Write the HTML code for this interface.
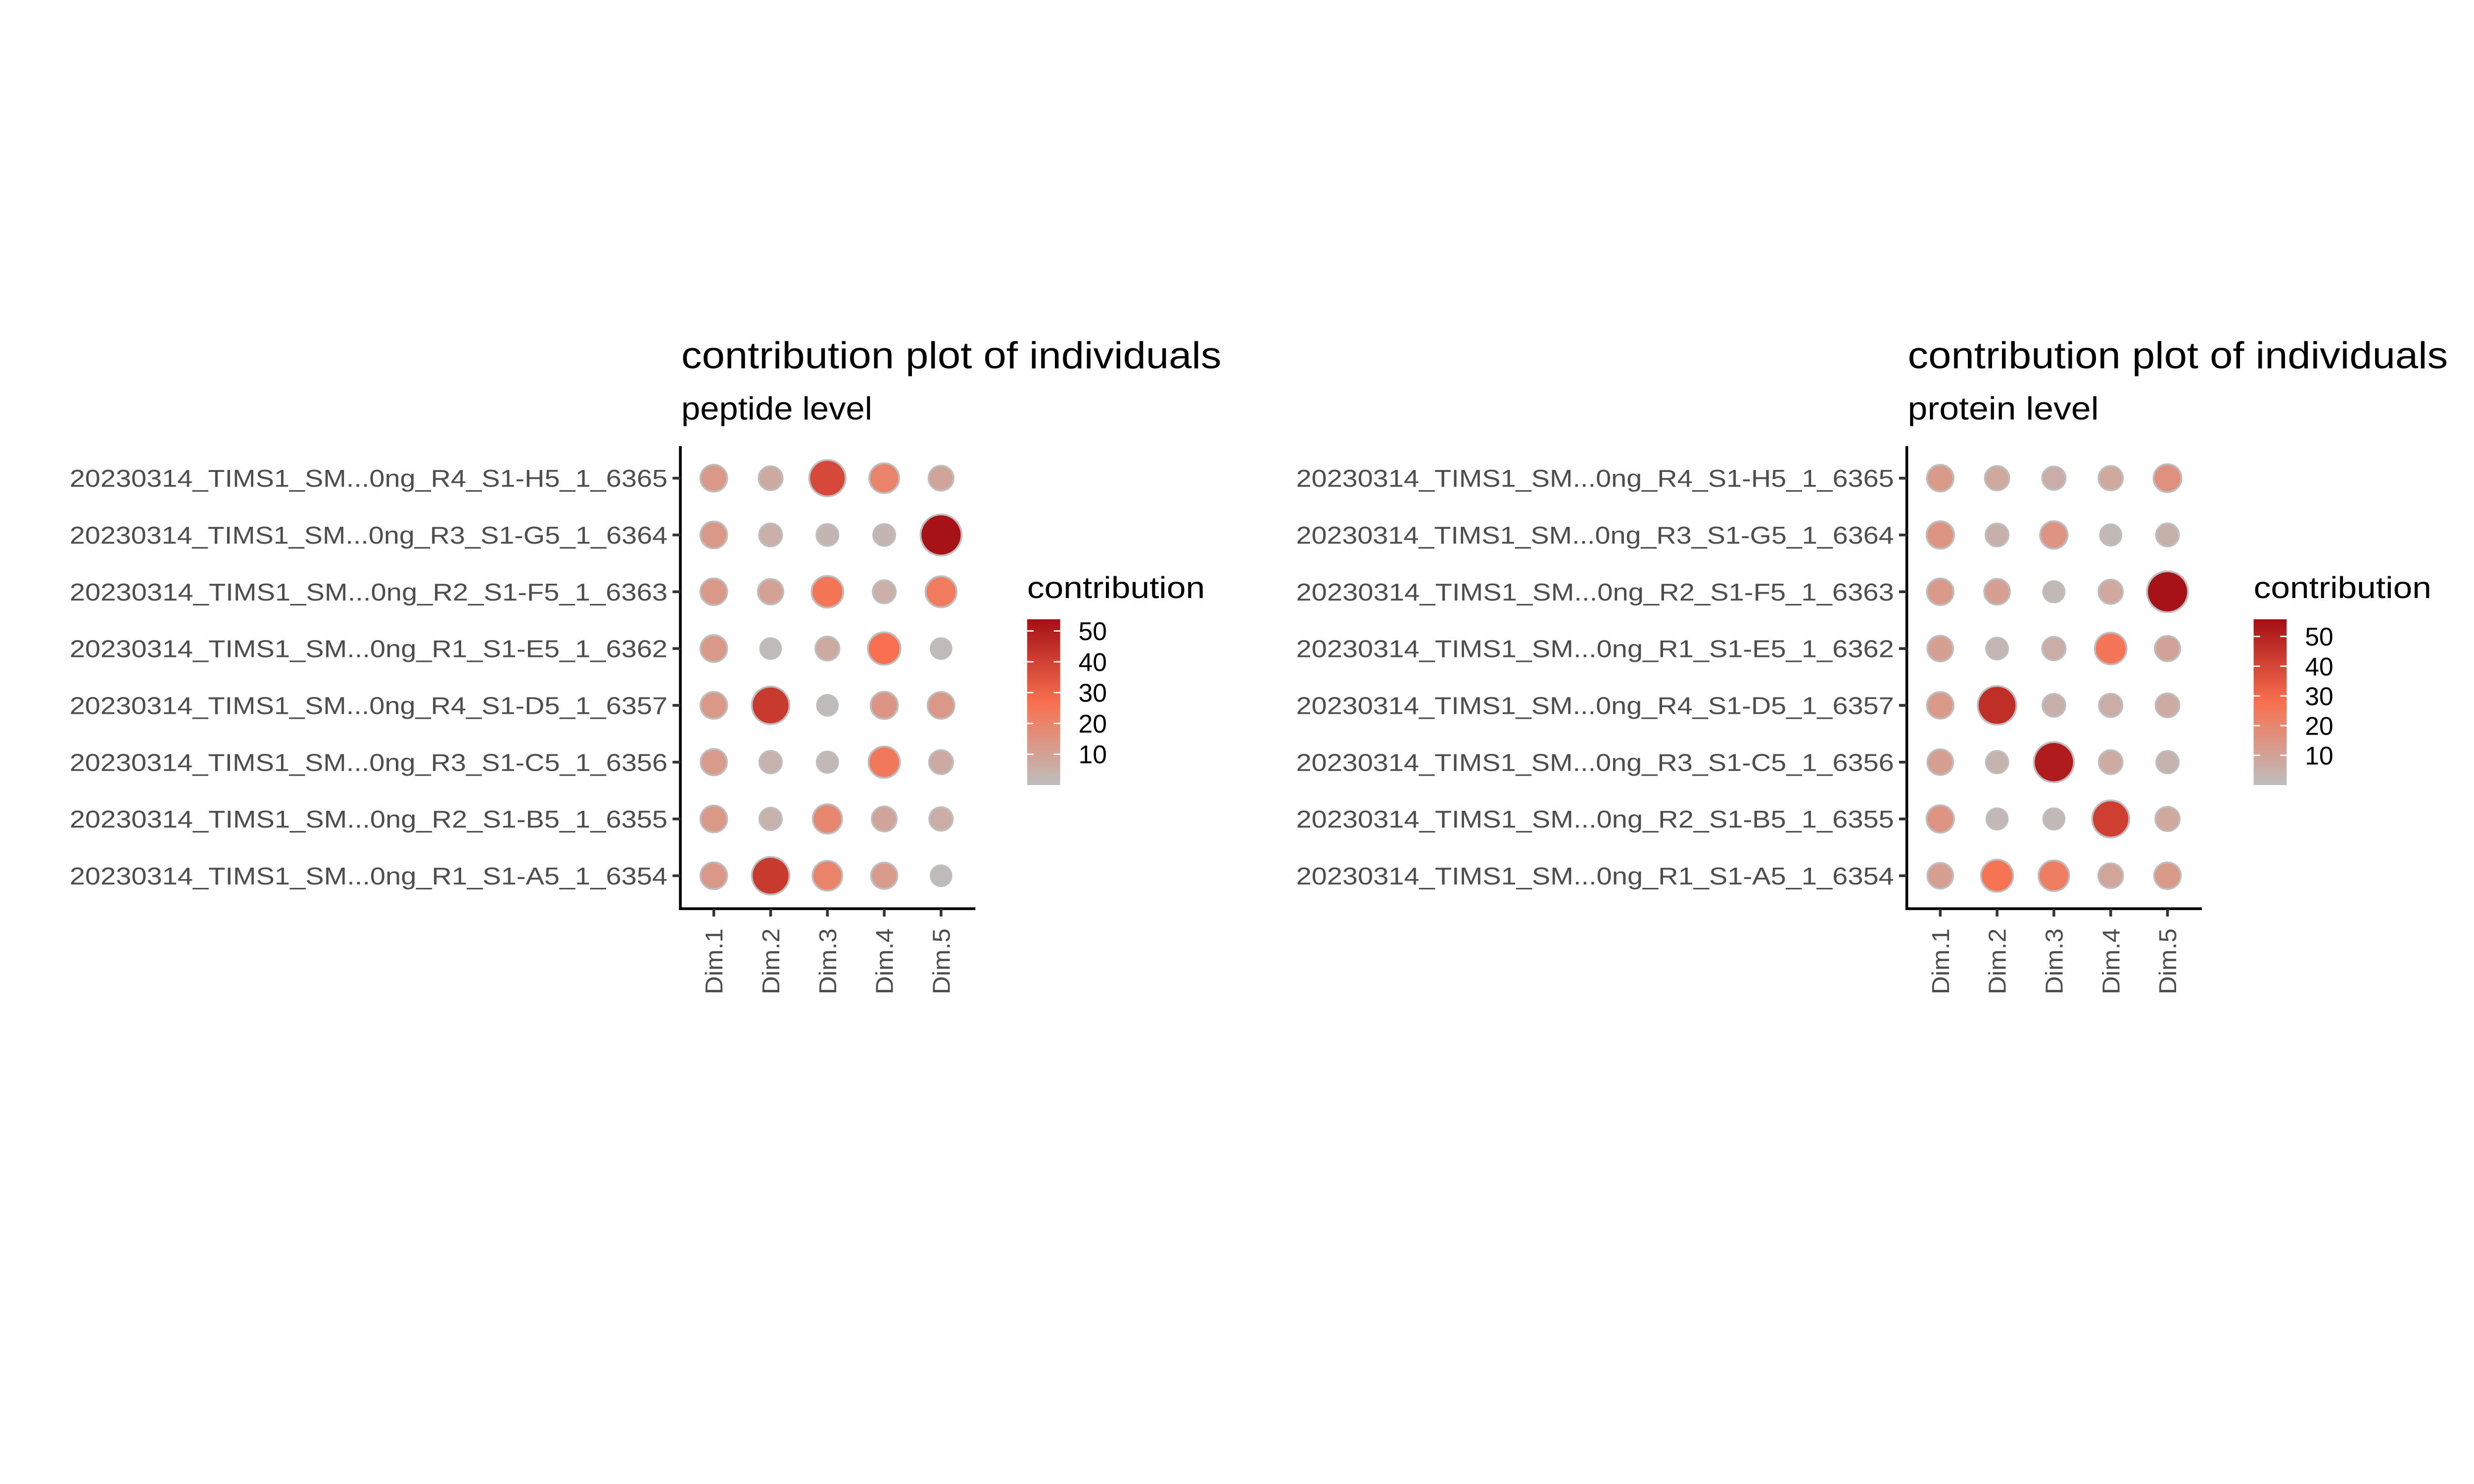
<!DOCTYPE html>
<html><head><meta charset="utf-8"><style>
html,body{margin:0;padding:0;background:#fff;overflow:hidden;width:100%;height:100%;}
svg{display:block;position:absolute;left:0;top:0;width:100vw;height:55.5556vw;font-family:"Liberation Sans",Arial,sans-serif;}
</style></head><body>
<svg id="chart" viewBox="0 0 5400 3000" preserveAspectRatio="none" xmlns="http://www.w3.org/2000/svg">
<defs>
<linearGradient id="lg" x1="0" y1="1" x2="0" y2="0">
<stop offset="0" stop-color="#BEBEBE"/><stop offset="0.5" stop-color="#F8704F"/><stop offset="1" stop-color="#A50F15"/>
</linearGradient>
</defs>
</svg>
<script>
const samples = ["20230314_TIMS1_SM...0ng_R4_S1-H5_1_6365","20230314_TIMS1_SM...0ng_R3_S1-G5_1_6364","20230314_TIMS1_SM...0ng_R2_S1-F5_1_6363","20230314_TIMS1_SM...0ng_R1_S1-E5_1_6362","20230314_TIMS1_SM...0ng_R4_S1-D5_1_6357","20230314_TIMS1_SM...0ng_R3_S1-C5_1_6356","20230314_TIMS1_SM...0ng_R2_S1-B5_1_6355","20230314_TIMS1_SM...0ng_R1_S1-A5_1_6354"];
const dims = ["Dim.1","Dim.2","Dim.3","Dim.4","Dim.5"];
const peptideValues = [
 [13,7,38,20,9],[13,5,3,3,53],[13,10,25,5,23],[13,1,7,27,1],
 [13,42,1,14,13],[12,4,2,24,7],[13,4,19,9,6],[13,42,20,12,1]];
const proteinValues = [
 [13,8,6,8,16],[15,5,15,2,5],[13,11,2,8,55],[11,3,6,26,10],
 [13,47,5,6,7],[11,4,52,7,4],[15,2,2,42,8],[11,27,23,9,13]];
const legendTicks = [10,20,30,40,50];
const titles = ["contribution plot of individuals","contribution plot of individuals"];
const subtitles = ["peptide level","protein level"];

const NS="http://www.w3.org/2000/svg";
const svg=document.getElementById('chart');
function mk(tag,attrs,parent){const e=document.createElementNS(NS,tag);for(const k in attrs)e.setAttribute(k,attrs[k]);(parent||svg).appendChild(e);return e;}
function hex(c){return [parseInt(c.slice(1,3),16),parseInt(c.slice(3,5),16),parseInt(c.slice(5,7),16)];}
const stops=[[0,hex('#BEBEBE')],[0.5,hex('#F8704F')],[1,hex('#A50F15')]];
function colorAt(t){t=Math.max(0,Math.min(1,t));for(let i=0;i<stops.length-1;i++){const a=stops[i],b=stops[i+1];if(t<=b[0]){const f=(t-a[0])/(b[0]-a[0]);return 'rgb('+a[1].map((v,j)=>Math.round(v+(b[1][j]-v)*f)).join(',')+')';}}return 'rgb(165,15,21)';}

function panel(off,values,title,subtitle,key){
  const axisX=1485+off, top=974, axisY=1984, right=2129+off;
  const rowY=i=>1044+i*124;
  const colX=j=>1558+off+j*124;
  let vmax=0;values.forEach(r=>r.forEach(v=>vmax=Math.max(vmax,v)));
  const lmax=vmax+0.8;
  const g=mk('g',{});
  
  
  let t=mk('text',{x:1487+off,y:804,'font-size':82,fill:'#000',textLength:1179,lengthAdjust:'spacingAndGlyphs'},g);t.textContent=title;
  
  t=mk('text',{x:1487+off,y:916,'font-size':70,fill:'#000',textLength:417*(subtitle.length/13),lengthAdjust:'spacingAndGlyphs'},g);t.textContent=subtitle;
  
  values.forEach((row,i)=>row.forEach((v,j)=>{
    const r=Math.sqrt(22*22+(45*45-22*22)*v/lmax);
    const e=mk('circle',{cx:colX(j),cy:rowY(i),r:r,fill:colorAt(v/lmax),stroke:'#BEBEBE','stroke-width':4},g);
    
    
  }));
  let a=mk('line',{x1:axisX,y1:top,x2:axisX,y2:axisY+2,stroke:'#000','stroke-width':6},g);
  
  a=mk('line',{x1:axisX-3,y1:axisY,x2:right,y2:axisY,stroke:'#000','stroke-width':6},g);
  
  samples.forEach((s,i)=>{
    mk('line',{x1:axisX-17,y1:rowY(i),x2:axisX,y2:rowY(i),stroke:'#333','stroke-width':6},g);
    const tx=mk('text',{x:axisX-28,y:rowY(i)+19,'font-size':53,fill:'#4D4D4D','text-anchor':'end',textLength:1305,lengthAdjust:'spacingAndGlyphs'},g);
    tx.textContent=s;
    
  });
  dims.forEach((d,j)=>{
    mk('line',{x1:colX(j),y1:axisY,x2:colX(j),y2:axisY+17,stroke:'#333','stroke-width':6},g);
    const tx=mk('text',{x:0,y:0,'font-size':53,fill:'#4D4D4D','text-anchor':'end',textLength:144,lengthAdjust:'spacingAndGlyphs',transform:'translate('+(colX(j)+19)+',2027) rotate(-90)'},g);
    tx.textContent=d;
    
  });
  const lx=2242+off, ly0=1352, ly1=1714;
  t=mk('text',{x:lx,y:1306,'font-size':66,fill:'#000',textLength:388,lengthAdjust:'spacingAndGlyphs'},g);t.textContent='contribution';
  
  const bar=mk('rect',{x:lx,y:ly0,width:72,height:ly1-ly0,fill:'url(#lg)'},g);
  
  const ly=v=>ly1-(v/lmax)*(ly1-ly0);
  legendTicks.forEach(v=>{
    mk('line',{x1:lx,y1:ly(v),x2:lx+14,y2:ly(v),stroke:'#fff','stroke-width':3},g);
    mk('line',{x1:lx+58,y1:ly(v),x2:lx+72,y2:ly(v),stroke:'#fff','stroke-width':3},g);
    const tx=mk('text',{x:lx+112,y:ly(v)+20,'font-size':56,fill:'#000',textLength:62,lengthAdjust:'spacingAndGlyphs'},g);
    tx.textContent=String(v);
    
  });
}
panel(0,peptideValues,titles[0],subtitles[0],'peptide');
panel(2677,proteinValues,titles[1],subtitles[1],'protein');
</script>
</body></html>
